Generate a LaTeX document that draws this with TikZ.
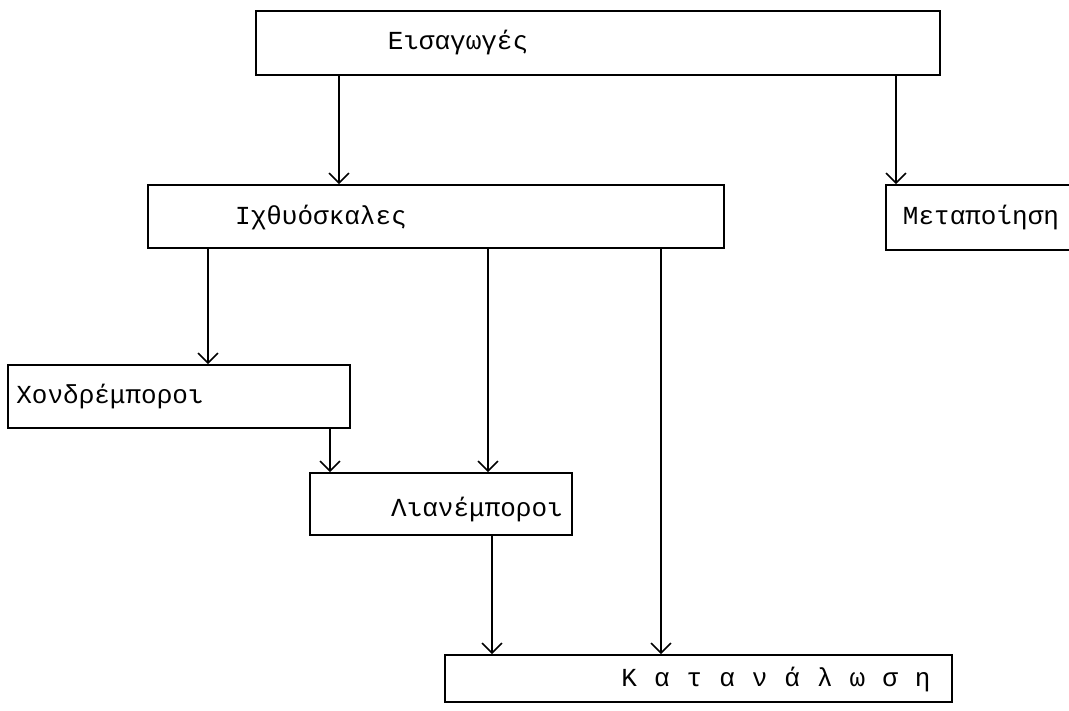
\documentclass[tikz,border=0pt]{standalone}
\usepackage{fontspec}
\setmainfont{Liberation Mono}
\usetikzlibrary{arrows.meta}
\tikzset{
  box/.style={draw, line width=1.8pt, inner sep=0pt},
  lbl/.style={font=\fontsize{26}{30}\selectfont, inner sep=0pt},
  arr/.style={line width=1.5pt, -{Straight Barb[length=10pt,width=20pt]}}
}
\begin{document}
\begin{tikzpicture}[x=1pt,y=-1pt]
      \useasboundingbox (0,0) rectangle (1069,710);
      \node[box, minimum width=684pt, minimum height=64pt] (eis) at (598,43) {};
      \node[box, minimum width=576pt, minimum height=63pt] (ix) at (436,216.5) {};
      \node[box, minimum width=194pt, minimum height=65pt] (met) at (983,217.5) {};
      \node[box, minimum width=342pt, minimum height=63pt] (xon) at (179,396.5) {};
      \node[box, minimum width=262pt, minimum height=62pt] (lian) at (441,504) {};
      \node[box, minimum width=507pt, minimum height=47pt] (kat) at (698.5,678.5) {};
      \node[lbl] (eis-t) at (458,43) {Εισαγωγές};
      \node[lbl] (ix-t) at (321,218) {Ιχθυόσκαλες};
      \node[lbl] (met-t) at (981,218) {Μεταποίηση};
      \node[lbl] (xon-t) at (110,397) {Χονδρέμποροι};
      \node[lbl] (lian-t) at (477,510) {Λιανέμποροι};
      \node[lbl] (kat-t) at (776,680) {\spaceskip=17pt Κ α τ α ν ά λ ω σ η};
      \draw[arr] (eis.south -| 339,0) -- (ix.north -| 339,0);
      \draw[arr] (eis.south -| 896,0) -- (met.north -| 896,0);
      \draw[arr] (ix.south -| 208,0) -- (xon.north -| 208,0);
      \draw[arr] (ix.south -| 488,0) -- (lian.north -| 488,0);
      \draw[arr] (ix.south -| 661,0) -- (kat.north -| 661,0);
      \draw[arr] (xon.south -| 330,0) -- (lian.north -| 330,0);
      \draw[arr] (lian.south -| 492,0) -- (kat.north -| 492,0);
    \end{tikzpicture}
\end{document}
